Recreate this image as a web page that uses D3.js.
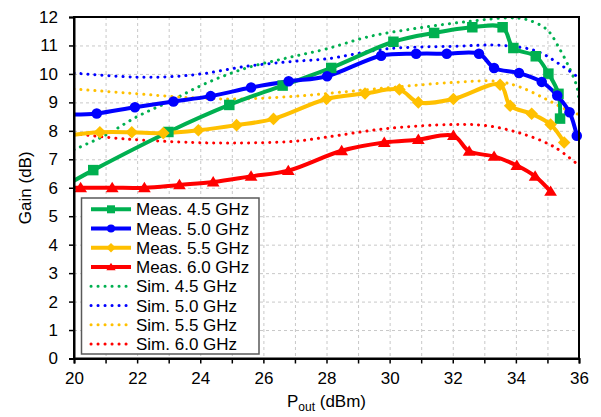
<html>

<head>
  <title>Gain vs Pout</title>
  <script src="https://d3js.org/d3.v7.min.js"></script>
  <style>
    body {
      margin: 0;
      font-family: 'Liberation Sans', Arial, Helvetica, sans-serif;
    }

    .grid line {
      stroke: #c8c8c8;
      stroke-dasharray: 3, 3;
    }

    .axis text {
      font-size: 17px;
      fill: #000;
    }
  </style>
</head>

<body>
  <svg id="gainChart" width="601" height="417"></svg>

  <script>
    // ----
    // DATA
    // ----
    const frequencies = ["4.5", "5.0", "5.5", "6.0"];
    const colors = ["#00B050", "#0000FF", "#FFC000", "#FF0000"];
    const markerShapes = ["square", "circle", "diamond", "triangle"];

    // measured (first point at 20 dBm is where the line enters the axis, no marker)
    const meas45X = [20, 20.61, 22.99, 24.92, 26.61, 28.15, 30.12, 31.41, 32.62, 33.58, 33.92, 34.63, 35.03, 35.35, 35.4];
    const meas45Y = [6.25, 6.62, 7.96, 8.91, 9.59, 10.21, 11.13, 11.44, 11.64, 11.64, 10.91, 10.62, 10.01, 9.3, 8.43];
    const meas50X = [20, 20.72, 21.93, 23.15, 24.33, 25.61, 26.8, 28.02, 29.73, 30.84, 31.81, 32.83, 33.31, 34.1, 34.82, 35.31, 35.7, 35.93];
    const meas50Y = [8.57, 8.61, 8.83, 9.03, 9.22, 9.52, 9.74, 9.92, 10.64, 10.71, 10.71, 10.71, 10.21, 10.03, 9.72, 9.24, 8.65, 7.83];
    const meas55X = [20, 20.82, 21.83, 22.83, 23.94, 25.15, 26.32, 28.0, 29.22, 30.31, 30.91, 32.02, 33.5, 33.82, 34.5, 35.1, 35.53];
    const meas55Y = [7.86, 7.95, 7.95, 7.92, 8.02, 8.2, 8.42, 9.12, 9.31, 9.45, 9.0, 9.12, 9.62, 8.88, 8.6, 8.22, 7.59];
    const meas60X = [20, 20.21, 21.21, 22.23, 23.34, 24.41, 25.61, 26.79, 28.48, 29.83, 30.91, 32.02, 32.52, 33.31, 34.03, 34.61, 35.1];
    const meas60Y = [6.0, 6.0, 6.0, 6.0, 6.1, 6.2, 6.4, 6.6, 7.3, 7.59, 7.69, 7.83, 7.28, 7.1, 6.78, 6.4, 5.87];

    // simulated
    const sim45X = [20, 21, 22, 23.04, 24.2, 25.47, 26.74, 28.0, 29.38, 30.96, 32.55, 33.81, 34.34, 34.98, 35.4, 35.72, 35.93, 36];
    const sim45Y = [7.34, 7.85, 8.5, 9.04, 9.68, 10.21, 10.56, 10.88, 11.32, 11.62, 11.85, 11.97, 11.91, 11.56, 10.85, 10.15, 9.56, 9.1];
    const sim50X = [20, 21.88, 23, 24.1, 25.47, 26.95, 28, 29.91, 32.02, 33.6, 34.66, 35.4, 36];
    const sim50Y = [10.03, 9.89, 9.9, 10.01, 10.27, 10.44, 10.53, 10.88, 10.97, 11.0, 10.8, 10.33, 9.86];
    const sim55X = [20, 21.67, 23.78, 25.15, 26.95, 28, 29.91, 32.02, 33.39, 34.13, 34.98, 35.61, 36];
    const sim55Y = [9.47, 9.33, 9.16, 9.12, 9.21, 9.31, 9.51, 9.7, 9.74, 9.54, 9.1, 8.74, 8.57];
    const sim60X = [20, 21.67, 23.78, 25.15, 26.95, 28, 29.91, 32.02, 33.07, 34.13, 35.19, 36];
    const sim60Y = [7.9, 7.71, 7.59, 7.57, 7.63, 7.78, 8.08, 8.22, 8.18, 7.92, 7.45, 6.78];

    const xTicks = d3.range(20, 37, 1);
    const yTicks = d3.range(0, 13, 1);

    const zip = (xs, ys) => xs.map((x, i) => ({ x: x, y: ys[i] }));
    const measSeries = [
      zip(meas45X, meas45Y), zip(meas50X, meas50Y), zip(meas55X, meas55Y), zip(meas60X, meas60Y)
    ];
    const simSeries = [
      zip(sim45X, sim45Y), zip(sim50X, sim50Y), zip(sim55X, sim55Y), zip(sim60X, sim60Y)
    ];

    // ----------
    // DIMENSIONS
    // ----------
    const svg = d3.select("svg#gainChart");
    const margin = { top: 17, right: 22, bottom: 58.5, left: 74 };
    const chartWidth = svg.attr("width") - margin.left - margin.right;
    const chartHeight = svg.attr("height") - margin.top - margin.bottom;

    const chartArea = svg.append("g")
      .attr("transform", `translate(${margin.left},${margin.top})`);

    // ======
    // SCALES
    // ======
    const xScale = d3.scaleLinear().domain([20, 36]).range([0, chartWidth]);
    const yScale = d3.scaleLinear().domain([0, 12]).range([chartHeight, 0]);

    // ==========
    // GRIDLINES
    // ==========
    chartArea.append("g").attr("class", "grid")
      .call(d3.axisBottom(xScale).tickValues(xTicks).tickSize(chartHeight).tickFormat(""))
      .call(g => g.select(".domain").remove());
    chartArea.append("g").attr("class", "grid")
      .call(d3.axisLeft(yScale).tickValues(yTicks).tickSize(-chartWidth).tickFormat(""))
      .call(g => g.select(".domain").remove());

    // ======
    // LINES
    // ======
    chartArea.append("clipPath").attr("id", "plotClip")
      .append("rect").attr("width", chartWidth).attr("height", chartHeight);

    const line = d3.line()
      .x(d => xScale(d.x))
      .y(d => yScale(d.y))
      .curve(d3.curveCatmullRom.alpha(0.5));

    const lines = chartArea.append("g").attr("clip-path", "url(#plotClip)");

    lines.selectAll("path.sim")
      .data(simSeries)
      .join("path").attr("class", "sim")
      .attr("fill", "none")
      .attr("stroke", (d, i) => colors[i])
      .attr("stroke-width", 3)
      .attr("stroke-linecap", "round")
      .attr("stroke-dasharray", "0.1,6.9")
      .attr("d", line);

    lines.selectAll("path.meas")
      .data(measSeries)
      .join("path").attr("class", "meas")
      .attr("fill", "none")
      .attr("stroke", (d, i) => colors[i])
      .attr("stroke-width", 4)
      .attr("stroke-linejoin", "round")
      .attr("d", line);

    // marker paths centred on 0,0
    const markerPath = function (shape, s) {
      if (shape === "square") return `M${-s / 2},${-s / 2}h${s}v${s}h${-s}Z`;
      if (shape === "circle") return d3.symbol(d3.symbolCircle, Math.PI * (s / 2) * (s / 2))();
      if (shape === "diamond") return `M0,${-s * 0.6}L${s * 0.6},0L0,${s * 0.6}L${-s * 0.6},0Z`;
      return `M0,${-s * 0.55}L${s * 0.58},${s * 0.4}L${-s * 0.58},${s * 0.4}Z`;
    };

    measSeries.forEach(function (series, i) {
      chartArea.append("g")
        .selectAll("path.marker")
        .data(series.filter(d => d.x > 20))
        .join("path").attr("class", "marker")
        .attr("fill", colors[i])
        .attr("transform", d => `translate(${xScale(d.x)},${yScale(d.y)})`)
        .attr("d", markerPath(markerShapes[i], i === 3 ? 11 : 10.5));
    });

    // ======
    //  AXES
    // ======
    chartArea.append("rect")
      .attr("width", chartWidth).attr("height", chartHeight)
      .attr("fill", "none").attr("stroke", "#000").attr("stroke-width", 2);

    chartArea.append("g").attr("class", "axis")
      .attr("transform", `translate(0,${chartHeight})`)
      .call(d3.axisBottom(xScale).tickValues(xTicks).tickSize(5).tickPadding(8)
        .tickFormat(d => d % 2 === 0 ? d : ""))
      .call(g => g.select(".domain").attr("stroke-width", 2))
      .call(g => g.selectAll(".tick line").attr("stroke-width", 1.5))
      .call(g => g.selectAll("text").attr("font-family", null));

    chartArea.append("g").attr("class", "axis")
      .call(d3.axisLeft(yScale).tickValues(yTicks).tickSize(5).tickPadding(11))
      .call(g => g.select(".domain").attr("stroke-width", 2))
      .call(g => g.selectAll(".tick line").attr("stroke-width", 1.5))
      .call(g => g.selectAll("text").attr("font-family", null));

    // axis titles
    svg.append("text")
      .attr("transform", `translate(31,${margin.top + chartHeight / 2}) rotate(-90)`)
      .attr("text-anchor", "middle")
      .style("font-size", "17px")
      .text("Gain (dB)");

    const xTitle = svg.append("text")
      .attr("x", margin.left + chartWidth / 2)
      .attr("y", 407)
      .attr("text-anchor", "middle")
      .style("font-size", "17px");
    xTitle.append("tspan").text("P");
    xTitle.append("tspan").attr("dy", 4).style("font-size", "12px").text("out");
    xTitle.append("tspan").attr("dy", -4).text(" (dBm)");

    // ======
    // LEGEND
    // ======
    const legend = svg.append("g").attr("transform", "translate(81.5,198)");
    legend.append("rect")
      .attr("width", 177.5).attr("height", 156)
      .attr("fill", "#fff").attr("stroke", "#595959").attr("stroke-width", 1.5);

    const legendItems = frequencies.map((f, i) => ({ label: `Meas. ${f} GHz`, i: i, meas: true }))
      .concat(frequencies.map((f, i) => ({ label: `Sim. ${f} GHz`, i: i, meas: false })));

    const rows = legend.selectAll("g.row")
      .data(legendItems)
      .join("g").attr("class", "row")
      .attr("transform", (d, k) => `translate(0,${11.3 + k * 19.25})`);

    rows.append("line")
      .attr("x1", 9.5).attr("x2", 49.5)
      .attr("stroke", d => colors[d.i])
      .attr("stroke-width", d => d.meas ? 4 : 3)
      .attr("stroke-linecap", d => d.meas ? "butt" : "round")
      .attr("stroke-dasharray", d => d.meas ? null : "0.1,6.9");

    rows.filter(d => d.meas).append("path")
      .attr("transform", "translate(29.5,0)")
      .attr("fill", d => colors[d.i])
      .attr("d", d => markerPath(markerShapes[d.i], 8));

    rows.append("text")
      .attr("x", 54.5)
      .attr("dy", "0.36em")
      .style("font-size", "17px")
      .text(d => d.label);
  </script>
</body>

</html>
